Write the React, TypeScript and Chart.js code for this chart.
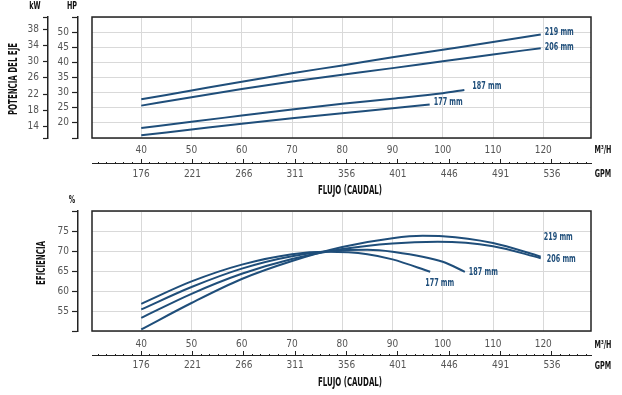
import React, { useEffect, useRef } from 'react';
import { Chart, registerables } from 'chart.js';

Chart.register(...registerables);

const FONT = "'Liberation Sans Narrow', 'DejaVu Sans Condensed', 'Roboto Condensed', 'Liberation Sans', Arial, sans-serif";
const BLUE = '#1f4e7a';
const GRID = '#d9d9d9';
const AXIS = '#222222';
const TICK_TEXT = '#555555';
const SQUEEZE = 0.68;

// ---- axes / ticks ----
const FLOW_MIN = 30.2;
const FLOW_MAX = 129.5;
const flowTicks = [40, 50, 60, 70, 80, 90, 100, 110, 120];
const gpmLabels = [176, 221, 266, 311, 356, 401, 446, 491, 536];
const GPM_PER_M3H = 4.403;
const gpmMinorStep = 7.5;
const hpRange = [15, 55];
const hpTicks = [20, 25, 30, 35, 40, 45, 50];
const kwTicks = [14, 18, 22, 26, 30, 34, 38];
const KW_PER_HP = 0.7457;
const effRange = [50, 80];
const effTicks = [55, 60, 65, 70, 75];

const curveNames = ['219 mm', '206 mm', '187 mm', '177 mm'];

// ---- shaft power (HP) vs flow (m3/h) ----
const powerFlow219 = [40, 50, 60, 70, 80, 90, 100, 110, 119.5];
const power219 = [27.8, 30.7, 33.6, 36.4, 39.0, 41.7, 44.2, 46.7, 49.2];
const powerFlow206 = [40, 50, 60, 70, 80, 90, 100, 110, 119.5];
const power206 = [25.7, 28.5, 31.2, 33.7, 35.9, 38.1, 40.4, 42.6, 44.7];
const powerFlow187 = [40, 50, 60, 70, 80, 90, 100, 104.3];
const power187 = [18.3, 20.4, 22.4, 24.4, 26.3, 28.0, 29.8, 30.9];
const powerFlow177 = [40, 50, 60, 70, 80, 90, 97.4];
const power177 = [15.9, 17.8, 19.7, 21.5, 23.2, 24.8, 26.1];

// ---- efficiency (%) vs flow (m3/h) ----
const effFlow219 = [40, 50, 60, 70, 80, 90, 96, 100, 110, 119.5];
const eff219 = [50.4, 57.0, 63.0, 67.5, 71.0, 73.2, 73.8, 73.7, 72.0, 68.6];
const effFlow206 = [40, 50, 60, 70, 80, 90, 99, 110, 119.5];
const eff206 = [53.3, 59.3, 64.3, 68.0, 70.5, 71.9, 72.3, 71.2, 68.2];
const effFlow187 = [40, 50, 60, 70, 80, 85, 90, 100, 104.4];
const eff187 = [55.4, 61.0, 65.6, 68.7, 70.2, 70.3, 69.8, 67.3, 64.8];
const effFlow177 = [40, 50, 60, 70, 77, 85, 90, 97.5];
const eff177 = [56.8, 62.4, 66.6, 69.2, 69.8, 69.2, 67.9, 64.8];

// label offsets (px) from each curve's last point
const powerLabelOffsets = [[4, -2], [4, -1], [8, -4], [4, -2]];
const effLabelOffsets = [[3, -19], [6, 1], [4, 0], [-5, 11]];

const zip = (xs: number[], ys: number[]) => xs.map((x, i) => ({ x, y: ys[i] }));

function makeDatasets(sets: { x: number[]; y: number[] }[]) {
  return sets.map((s, i) => ({
    label: curveNames[i],
    data: zip(s.x, s.y),
    borderColor: BLUE,
    backgroundColor: BLUE,
    borderWidth: 2,
    pointRadius: 0,
    fill: false,
    cubicInterpolationMode: 'monotone' as const,
    xAxisID: 'x',
    yAxisID: 'y',
  }));
}

const tickFont = { family: FONT, size: 10 };

function flowScales(xPad: number, xHeight: number, gpmPad: number, gpmHeight: number) {
  return {
    x: {
      type: 'linear',
      position: 'bottom',
      weight: 0,
      min: FLOW_MIN,
      max: FLOW_MAX,
      afterBuildTicks: (s: any) => {
        s.ticks = flowTicks.map((v) => ({ value: v }));
      },
      afterFit: (s: any) => {
        s.height = xHeight;
      },
      grid: { color: GRID, lineWidth: 1, drawTicks: false },
      border: { display: false },
      ticks: {
        padding: xPad,
        color: TICK_TEXT,
        font: tickFont,
        maxRotation: 0,
        autoSkip: false,
        callback: (v: any) => String(v),
      },
    },
    gpm: {
      type: 'linear',
      position: 'bottom',
      weight: 1,
      min: FLOW_MIN * GPM_PER_M3H,
      max: FLOW_MAX * GPM_PER_M3H,
      afterBuildTicks: (s: any) => {
        const ticks: any[] = [];
        for (let k = -12; k <= 60; k++) {
          const v = gpmLabels[0] + k * gpmMinorStep;
          if (v >= s.min && v <= s.max) ticks.push({ value: v, major: ((k % 6) + 6) % 6 === 0 });
        }
        s.ticks = ticks;
      },
      afterFit: (s: any) => {
        s.height = gpmHeight;
      },
      grid: {
        drawOnChartArea: false,
        drawTicks: true,
        tickLength: -4,
        tickColor: AXIS,
        tickWidth: 1,
        color: AXIS,
        tickBorderDash: (ctx: any) => (ctx.tick && ctx.tick.major ? [] : [2, 20]),
      },
      border: { display: true, color: AXIS, width: 1 },
      ticks: {
        padding: gpmPad,
        color: TICK_TEXT,
        font: tickFont,
        maxRotation: 0,
        autoSkip: false,
        callback: (v: any, i: number, ticks: any[]) => (ticks[i] && ticks[i].major ? String(Math.round(v)) : ''),
      },
    },
  };
}

function spacerY(range: number[]) {
  return {
    type: 'linear',
    position: 'left',
    weight: 0,
    min: range[0],
    max: range[1],
    ticks: { display: false, stepSize: 5 },
    grid: { color: GRID, lineWidth: 1, drawTicks: false },
    border: { display: false },
    afterFit: (s: any) => {
      s.width = 14;
    },
  };
}

function valueAxis(weight: number, min: number, max: number, labels: number[], width: number, tickLen: number, pad: number) {
  return {
    type: 'linear',
    position: 'left',
    weight,
    min,
    max,
    afterBuildTicks: (s: any) => {
      s.ticks = [min, ...labels, max].map((v) => ({ value: v }));
    },
    afterFit: (s: any) => {
      s.width = width;
    },
    grid: { drawOnChartArea: false, drawTicks: true, tickLength: tickLen, tickColor: AXIS, tickWidth: 1.2 },
    border: { display: true, color: AXIS, width: 1.5 },
    ticks: {
      padding: pad,
      color: TICK_TEXT,
      font: tickFont,
      autoSkip: false,
      callback: (v: any) => (labels.includes(v) ? String(v) : ''),
    },
  };
}

function drawText(ctx: any, t: any) {
  ctx.save();
  ctx.font = `bold ${t.size || 10}px ${FONT}`;
  ctx.fillStyle = t.color || '#111';
  ctx.textBaseline = 'middle';
  ctx.textAlign = t.align || 'center';
  ctx.translate(t.x, t.y);
  if (t.rotate) ctx.rotate(t.rotate);
  ctx.scale(SQUEEZE, 1);
  ctx.fillText(t.text, 0, 0);
  ctx.restore();
}

const frameAndTextPlugin = (offsets: number[][], texts: (chart: any) => any[]) => ({
  id: 'frameAndText',
  beforeDatasetsDraw(chart: any) {
    const { ctx, chartArea: a } = chart;
    ctx.save();
    ctx.strokeStyle = AXIS;
    ctx.lineWidth = 1.5;
    ctx.strokeRect(a.left, a.top, a.right - a.left, a.bottom - a.top);
    ctx.restore();
  },
  afterDatasetsDraw(chart: any) {
    const ctx = chart.ctx;
    chart.data.datasets.forEach((ds: any, i: number) => {
      const pts = chart.getDatasetMeta(i).data;
      const p = pts[pts.length - 1];
      drawText(ctx, { text: ds.label, x: p.x + offsets[i][0], y: p.y + offsets[i][1], align: 'left', color: BLUE, size: 10.5 });
    });
  },
  afterDraw(chart: any) {
    for (const t of texts(chart)) drawText(chart.ctx, t);
  },
});

export default function App() {
  const topRef = useRef<HTMLCanvasElement | null>(null);
  const botRef = useRef<HTMLCanvasElement | null>(null);

  useEffect(() => {
    const common = {
      responsive: false,
      animation: false as const,
      events: [] as any[],
      plugins: { legend: { display: false }, tooltip: { enabled: false } },
    };

    const powerScales: any = {
      ...flowScales(6, 25, 9, 37),
      y: spacerY(hpRange),
      hp: valueAxis(1, hpRange[0], hpRange[1], hpTicks, 30, 6, 3),
      kw: valueAxis(2, hpRange[0] * KW_PER_HP, hpRange[1] * KW_PER_HP, kwTicks, 48, 5, 4),
    };

    const top = new Chart(topRef.current as HTMLCanvasElement, {
      type: 'line',
      data: {
        datasets: makeDatasets([
          { x: powerFlow219, y: power219 },
          { x: powerFlow206, y: power206 },
          { x: powerFlow187, y: power187 },
          { x: powerFlow177, y: power177 },
        ]) as any,
      },
      options: {
        ...common,
        layout: { padding: { top: 17, right: 31, left: 0, bottom: 0 } },
        scales: powerScales,
      } as any,
      plugins: [
        frameAndTextPlugin(powerLabelOffsets, (c: any) => [
          { text: 'kW', x: c.scales.kw.right - 13, y: 6, size: 10.5 },
          { text: 'HP', x: c.scales.hp.right - 6, y: 6, size: 10.5 },
          { text: 'POTENCIA DEL EJE', x: 14, y: 79, rotate: -Math.PI / 2, size: 11.5 },
          { text: 'M³/H', x: c.chartArea.right + 12, y: 150, size: 10.5 },
          { text: 'GPM', x: c.chartArea.right + 12, y: 174, size: 10.5 },
          { text: 'FLUJO (CAUDAL)', x: 350, y: 191, size: 11.5 },
        ]),
      ],
    });

    const effScales: any = {
      ...flowScales(7, 24, 8, 40),
      y: spacerY(effRange),
      eff: valueAxis(1, effRange[0], effRange[1], effTicks, 78, 6, 3),
    };

    const bottom = new Chart(botRef.current as HTMLCanvasElement, {
      type: 'line',
      data: {
        datasets: makeDatasets([
          { x: effFlow219, y: eff219 },
          { x: effFlow206, y: eff206 },
          { x: effFlow187, y: eff187 },
          { x: effFlow177, y: eff177 },
        ]) as any,
      },
      options: {
        ...common,
        layout: { padding: { top: 21, right: 31, left: 0, bottom: 0 } },
        scales: effScales,
      } as any,
      plugins: [
        frameAndTextPlugin(effLabelOffsets, (c: any) => [
          { text: '%', x: c.scales.eff.right - 6, y: 10, size: 10.5 },
          { text: 'EFICIENCIA', x: 42, y: 73, rotate: -Math.PI / 2, size: 11.5 },
          { text: 'M³/H', x: c.chartArea.right + 12, y: 155, size: 10.5 },
          { text: 'GPM', x: c.chartArea.right + 12, y: 176, size: 10.5 },
          { text: 'FLUJO (CAUDAL)', x: 350, y: 193, size: 11.5 },
        ]),
      ],
    });

    return () => {
      top.destroy();
      bottom.destroy();
    };
  }, []);

  return (
    <div style={{ position: 'fixed', left: 0, top: 0, width: 622, height: 395, background: '#fff' }}>
      <canvas ref={topRef} width={622} height={200} style={{ position: 'absolute', left: 0, top: 0, width: 622, height: 200 }} />
      <canvas ref={botRef} width={622} height={205} style={{ position: 'absolute', left: 0, top: 190, width: 622, height: 205 }} />
    </div>
  );
}
